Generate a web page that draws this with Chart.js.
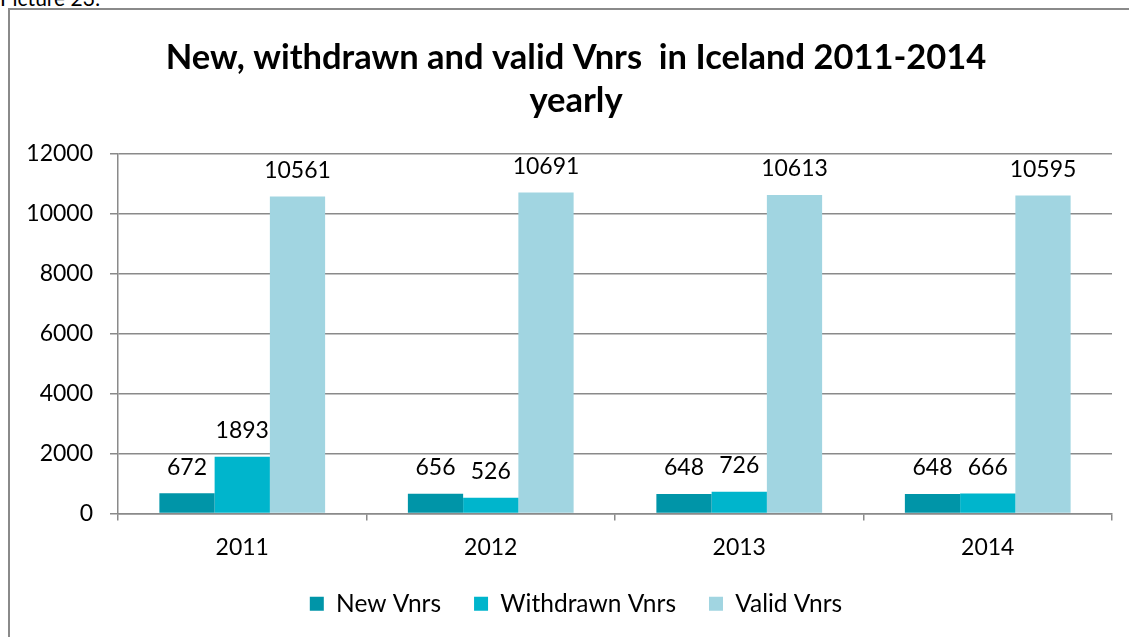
<!DOCTYPE html>
<html>
<head>
<meta charset="utf-8">
<script src="https://cdn.jsdelivr.net/npm/chart.js@4.4.1/dist/chart.umd.min.js"></script>
<style>
  html, body { margin: 0; padding: 0; background: #fff; }
  body { width: 1129px; height: 637px; position: relative; overflow: hidden; font-family: Lato, sans-serif; }
  #caption { position: absolute; left: 0; top: -15px; font-size: 21px; color: #000; white-space: nowrap; }
  #frame { position: absolute; left: 8px; top: 8px; right: -10px; bottom: -10px; border-left: 2px solid #8a8a8a; border-top: 2px solid #8a8a8a; }
  #wrap { position: absolute; left: 0; top: 0; width: 1129px; height: 637px; }
</style>
</head>
<body>
<div id="caption">Picture 23:</div>
<div id="frame"></div>
<div id="wrap"><canvas id="vnrChart" width="1129" height="637"></canvas></div>
<script>
  // data
  var years = ['2011', '2012', '2013', '2014'];
  var newVnrs = [672, 656, 648, 648];
  var withdrawnVnrs = [1893, 526, 726, 666];
  var validVnrs = [10561, 10691, 10613, 10595];
  var seriesNames = ['New Vnrs', 'Withdrawn Vnrs', 'Valid Vnrs'];
  var seriesColors = ['#0095a8', '#00b5cc', '#a1d5e1'];
  var titleLines = ['New, withdrawn and valid Vnrs  in Iceland 2011-2014', 'yearly'];

  var FONT = 'Lato, sans-serif';

  // value labels above each bar
  var barLabels = {
    id: 'barLabels',
    afterDatasetsDraw: function (chart) {
      var ctx = chart.ctx;
      ctx.save();
      ctx.font = '23px ' + FONT;
      ctx.fillStyle = '#000';
      ctx.textAlign = 'center';
      ctx.textBaseline = 'middle';
      chart.data.datasets.forEach(function (ds, i) {
        chart.getDatasetMeta(i).data.forEach(function (bar, j) {
          ctx.fillText(String(ds.data[j]), bar.x, bar.y - 26);
        });
      });
      ctx.restore();
    }
  };

  // the left padding only shifts title/legend to the right; let y labels use that room
  var widenYLabels = {
    id: 'widenYLabels',
    afterLayout: function (chart) { chart.scales.y.left = 0; }
  };

  var ctx = document.getElementById('vnrChart').getContext('2d');
  new Chart(ctx, {
    type: 'bar',
    data: {
      labels: years,
      datasets: [
        { label: seriesNames[0], data: newVnrs, backgroundColor: seriesColors[0] },
        { label: seriesNames[1], data: withdrawnVnrs, backgroundColor: seriesColors[1] },
        { label: seriesNames[2], data: validVnrs, backgroundColor: seriesColors[2] }
      ]
    },
    options: {
      responsive: false,
      animation: false,
      datasets: { bar: { categoryPercentage: 0.667, barPercentage: 1.0, borderWidth: 0 } },
      layout: { padding: { left: 40, right: 17, top: 0, bottom: 11 } },
      plugins: {
        title: {
          display: true,
          text: titleLines,
          color: '#000',
          font: { family: FONT, size: 34.5, weight: 'bold', lineHeight: 1.25 },
          padding: { top: 36, bottom: 31 }
        },
        legend: {
          position: 'bottom',
          labels: {
            color: '#000',
            font: { family: FONT, size: 24.5 },
            boxWidth: 14,
            boxHeight: 14,
            padding: 33
          }
        },
        tooltip: { enabled: false }
      },
      scales: {
        y: {
          min: 0, max: 12000,
          ticks: {
            stepSize: 2000, color: '#000', font: { family: FONT, size: 23 }, padding: 17,
            callback: function (v) { return String(v); }
          },
          grid: { color: '#8a8a8a', lineWidth: 1.5, tickLength: 8 },
          border: { color: '#8a8a8a', width: 1.5 },
          afterFit: function (s) { s.width = 78; }
        },
        x: {
          ticks: { color: '#000', font: { family: FONT, size: 23 }, padding: 13 },
          grid: { drawOnChartArea: false, color: '#8a8a8a', lineWidth: 1.5, tickLength: 7 },
          border: { color: '#8a8a8a', width: 1.5 },
          afterFit: function (s) { s.height = 45; }
        }
      }
    },
    plugins: [barLabels, widenYLabels]
  });
</script>
</body>
</html>
